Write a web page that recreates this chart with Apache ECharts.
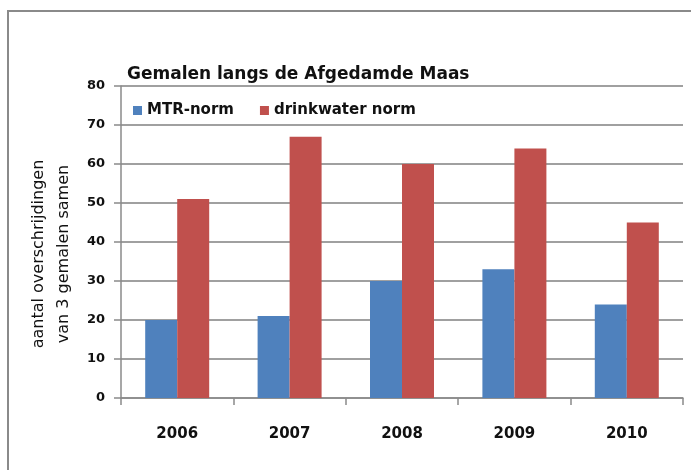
<!DOCTYPE html>
<html><head><meta charset="utf-8">
<script src="https://cdn.jsdelivr.net/npm/echarts@6/dist/echarts.min.js"></script>
<style>html,body{margin:0;padding:0;background:#fff}#c{width:691px;height:470px}</style>
</head><body><div id="c"></div>
<script>
const categories = ['2006','2007','2008','2009','2010'];
const mtrNorm = [20, 21, 30, 33, 24];
const drinkwaterNorm = [51, 67, 60, 64, 45];
const yTicks = [0, 10, 20, 30, 40, 50, 60, 70, 80];
const titleText = 'Gemalen langs de Afgedamde Maas';
const yName = 'aantal overschrijdingen\nvan 3 gemalen samen';
const F = '"DejaVu Sans", sans-serif';

const chart = echarts.init(document.getElementById('c'), null, {renderer: 'canvas'});
chart.setOption({
  animation: false,
  backgroundColor: '#fff',
  graphic: [{
    type: 'rect', shape: {x: 8, y: 11, width: 700, height: 480},
    style: {fill: 'none', stroke: '#8a8a8a', lineWidth: 2}, silent: true
  }],
  title: {
    text: titleText, left: 122, top: 61,
    textStyle: {fontFamily: F, fontSize: 17, fontWeight: 'bold', color: '#111'}
  },
  legend: {
    left: 128, top: 98, itemWidth: 9, itemHeight: 9, itemGap: 26,
    icon: 'rect',
    textStyle: {fontFamily: F, fontSize: 15, fontWeight: 'bold', color: '#111'},
    data: ['MTR-norm', 'drinkwater norm']
  },
  grid: {left: 121, right: 8, top: 86, bottom: 72, containLabel: false},
  xAxis: {
    type: 'category', data: categories,
    axisLine: {lineStyle: {color: '#8a8a8a', width: 1.5}},
    axisTick: {show: true, length: 7, inside: false, alignWithLabel: false, lineStyle: {color: '#8a8a8a', width: 1.5}},
    axisLabel: {margin: 29, fontFamily: F, fontSize: 15, fontWeight: 'bold', color: '#111'}
  },
  yAxis: {
    type: 'value', min: yTicks[0], max: yTicks[yTicks.length - 1], interval: 10,
    name: yName, nameLocation: 'middle', nameGap: 44, nameRotate: 90,
    nameTextStyle: {fontFamily: F, fontSize: 16, color: '#111', lineHeight: 25, padding: [0, 24, 0, 0]},
    axisLine: {show: true, lineStyle: {color: '#8a8a8a', width: 1.5}},
    axisTick: {show: true, length: 7, lineStyle: {color: '#8a8a8a', width: 1.5}},
    axisLabel: {margin: 16, fontFamily: F, fontSize: 13, fontWeight: 'bold', color: '#111'},
    splitLine: {lineStyle: {color: '#a0a0a0', width: 2}}
  },
  series: [
    {name: 'MTR-norm', type: 'bar', data: mtrNorm, barWidth: 32, barGap: '0%',
     itemStyle: {color: '#4F81BD'}},
    {name: 'drinkwater norm', type: 'bar', data: drinkwaterNorm, barWidth: 32,
     itemStyle: {color: '#C0504D'}}
  ]
});
</script></body></html>
